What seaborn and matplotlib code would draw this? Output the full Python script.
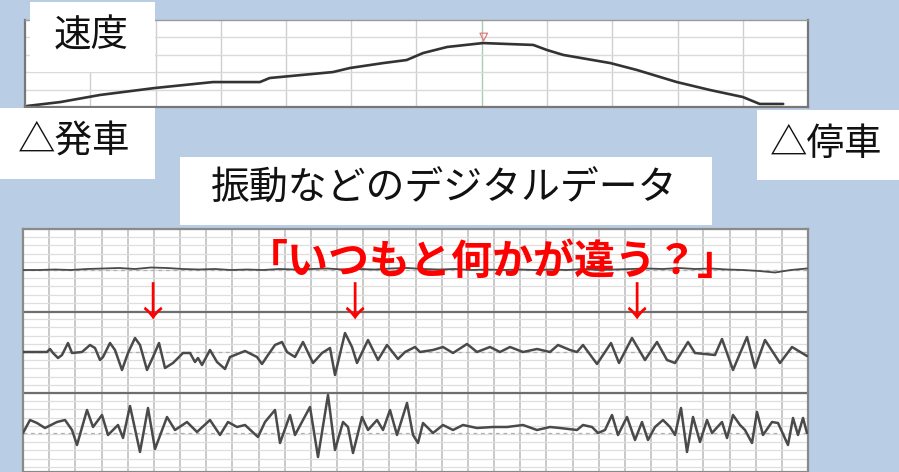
import matplotlib
matplotlib.use("Agg")
import matplotlib.pyplot as plt
from matplotlib.patches import Rectangle
from matplotlib.ticker import MultipleLocator
import seaborn as sns
import pandas as pd

# speed curve (t in s, v in km/h)
speed_t = [0.3, 5.4, 11.5, 19.9, 28.8, 36.0, 37.5, 47.2, 49.8, 54.9, 58.5, 61.0,
           64.7, 70.2, 74.3, 77.9, 80.0, 82.5, 89.7, 93.8, 99.9, 105.0, 110.0,
           112.6, 116.2]
speed_v = [0.7, 3.4, 8.3, 13.1, 17.2, 17.2, 20.0, 24.1, 26.9, 30.3, 32.4, 37.2,
           41.4, 44.1, 43.4, 42.8, 39.3, 35.9, 30.3, 25.5, 17.2, 11.7, 6.9,
           2.1, 2.1]

# vibration traces (t = sample no., a = amplitude)
vib1_t = [0, 16, 32, 48, 64, 80, 96, 112, 128, 144, 160, 176, 192, 208, 224, 240,
          256, 272, 288, 304, 320, 336, 352, 368, 384, 400, 416, 432, 448, 464,
          480, 496, 512, 528, 544, 560, 576, 592, 608, 624, 640, 656, 672, 688,
          704, 720, 736, 752, 768, 784]
vib1_a = [0, 0, 0.5, 0, 1, 1.5, 2, 1, 2.5, 2, 1, 0.5, 1, 0, 0.5, 0, 1, 0.5, 1,
          1.5, 0.5, 1, 0.5, 1.5, 2, 1, 0.5, 1, 0, 0.5, 0, 0.5, 0, 0.5, 0, 1, 0,
          0.5, 1, 1.5, 1, 2, 1, 1.5, 0.5, 0, -1, -2.5, 0, 1.5]

vib2_t = [0, 14, 24, 27, 30, 35, 39, 45, 49, 59, 67, 72, 77, 80, 87, 92, 99, 105,
          112, 117, 124, 130, 136, 142, 150, 160, 167, 172, 175, 179, 187, 194,
          202, 207, 222, 234, 239, 245, 252, 259, 264, 272, 280, 290, 299, 307,
          312, 322, 329, 334, 345, 355, 364, 375, 382, 392, 397, 410, 420, 430,
          444, 454, 467, 477, 487, 500, 514, 527, 535, 547, 554, 560, 574, 582,
          588, 596, 609, 622, 634, 644, 652, 665, 672, 692, 699, 710, 724, 732,
          742, 757, 769, 784]
vib2_a = [0, 0, 0, 3, -1, -6, -3, 9, -1, 0, 7, 4, -8, -5, 9, 2, -18, -1, 14, 7,
          -18, -5, 9, -16, -11, -1, -1, -10, -6, -13, 2, -10, -17, -5, 1, -5,
          -12, -3, 7, 10, 0, -5, 10, -11, -1, 4, -23, 19, 5, -11, 12, -8, 7, -7,
          0, 5, 0, 2, 5, -1, 8, 0, 5, 0, 5, 0, 3, 0, 7, 2, 0, 7, -12, 0, 9, -11,
          14, -8, 10, -8, -11, 10, -1, -3, 13, -18, 15, -16, 12, -11, 5, -4]

vib3_t = [0, 7, 14, 22, 34, 42, 49, 54, 64, 70, 79, 85, 95, 100, 107, 117, 125,
          132, 144, 152, 164, 174, 187, 197, 205, 214, 222, 235, 242, 252, 257,
          267, 272, 280, 287, 295, 305, 312, 320, 325, 330, 339, 345, 354, 360,
          367, 374, 384, 390, 395, 400, 410, 420, 430, 440, 454, 470, 484, 500,
          514, 527, 537, 554, 560, 569, 575, 582, 589, 595, 604, 612, 619, 625,
          632, 640, 647, 652, 658, 664, 670, 677, 684, 689, 699, 704, 710, 717,
          722, 729, 734, 740, 749, 755, 765, 770, 775, 780, 784]
vib3_a = [0, 13, 10, 5, 11, 13, 3, -12, 23, 6, 18, -2, 8, -5, 27, -19, 25, -16,
          16, 3, 11, 1, 13, -2, 11, 6, 8, -4, 11, 23, -10, 18, -2, 13, 26, -24,
          38, -17, 11, 6, -20, 16, 3, 13, 3, 23, -2, 30, -2, -10, 10, 0, 8, 3, 8,
          5, 6, 6, 8, 3, 6, 5, 3, 8, 6, 0, 3, 18, -2, 16, -7, 11, -7, 6, 13, 6,
          -2, 25, -19, 16, -9, 13, 0, 11, -5, 18, 8, 3, -10, 21, -2, 11, 10, -12,
          15, -2, 15, 0]

vib_base = [-41, -123, -204]

labels_black = ["速度", "△発車", "△停車", "振動などのデジタルデータ"]
label_red = "「いつもと何かが違う？」"

sns.set_style("white")
plt.rcParams['font.family'] = ['Noto Sans CJK JP', 'DejaVu Sans']

W, H = 899, 472
fig = plt.figure(figsize=(W / 100, H / 100), dpi=100)
fig.patch.set_facecolor("#B9CDE5")


def fx(x):
    return x / W


def fy(y):
    return 1 - y / H


def box(x0, y0, x1, y1):
    fig.add_artist(Rectangle((fx(x0), fy(y1)), (x1 - x0) / W, (y1 - y0) / H,
                             transform=fig.transFigure, facecolor="white",
                             edgecolor="none", zorder=2))


# --- speed chart ---
ax_s = fig.add_axes([fx(25), fy(107), 783 / W, 87 / H])
ax_s.set_facecolor("white")
ax_s.set_xlim(0, 120)
ax_s.set_ylim(0, 60)
for t in range(10, 120, 10):
    ax_s.axvline(t, color="#a9cbb3" if t == 70 else "#cfcfcf", lw=1.0, zorder=0)
for v in range(12, 60, 12):
    ax_s.axhline(v, color="#dadada", lw=1.0, zorder=0)
sns.lineplot(x=speed_t, y=speed_v, ax=ax_s, color="#333333", lw=1.9,
             sort=False, estimator=None)
ax_s.scatter([70.3], [48.3], marker="v", s=30, facecolors="none",
             edgecolors="#e07070", lw=0.8, zorder=3)
ax_s.set_xticks([])
ax_s.set_yticks([])
for side, sp in ax_s.spines.items():
    sp.set_visible(True)
    sp.set_color("#9a9a9a" if side == "top" else "#777777")
    sp.set_linewidth(1.0 if side == "top" else 1.6)

# --- vibration chart ---
ax_v = fig.add_axes([fx(23), 0, 785 / W, 243 / H])
ax_v.set_facecolor("white")
ax_v.set_xlim(0, 785)
ax_v.set_ylim(-243, 0)
ax_v.xaxis.set_major_locator(MultipleLocator(785 / 30))
ax_v.yaxis.set_major_locator(MultipleLocator(8.2))
ax_v.grid(True, which="major", axis="y", color="#dedede", lw=0.9)
ax_v.grid(True, which="major", axis="x", color="#bababa", lw=1.1)
ax_v.tick_params(length=0, labelbottom=False, labelleft=False)
for y in (-83, -164):
    ax_v.axhline(y, color="#6e6e6e", lw=1.6, zorder=2)
for b in vib_base:
    ax_v.axhline(b, color="#b0b0b0", lw=0.9, ls=(0, (3, 3)), zorder=2)

traces = [(vib1_t, vib1_a, 1.3), (vib2_t, vib2_a, 1.8), (vib3_t, vib3_a, 1.8)]
for (tt, aa, lw), b in zip(traces, vib_base):
    df = pd.DataFrame({"t": tt, "a": [b + a for a in aa]})
    sns.lineplot(data=df, x="t", y="a", ax=ax_v, color="#4a4a4a", lw=lw,
                 sort=False, estimator=None, zorder=3,
                 solid_joinstyle="round", solid_capstyle="round")
ax_v.set_xlabel("")
ax_v.set_ylabel("")
ax_s.set_xlabel("")
ax_s.set_ylabel("")
for side, sp in ax_v.spines.items():
    sp.set_visible(True)
    sp.set_color("#8a8a8a")
    sp.set_linewidth(1.6)

# --- label boxes ---
box(30, 2, 155, 72)
box(0, 108, 155, 179)
box(757, 110, 899, 180)
box(180, 157, 712, 225)

fig.text(fx(91), fy(36), labels_black[0], fontsize=27, color="#111111",
         ha="center", va="center", zorder=4)
fig.text(fx(74), fy(142), labels_black[1], fontsize=27, color="#111111",
         ha="center", va="center", zorder=4)
fig.text(fx(826), fy(144), labels_black[2], fontsize=27, color="#111111",
         ha="center", va="center", zorder=4)
fig.text(fx(444), fy(189), labels_black[3], fontsize=28, color="#111111",
         ha="center", va="center", zorder=4)

fig.text(fx(493), fy(262), label_red, fontsize=29.5, fontweight="bold",
         color="#FF0000", ha="center", va="center", zorder=5)
for x in (152, 354, 636):
    fig.text(fx(x), fy(305), "↓", fontsize=29, color="#FF0000",
             ha="center", va="center", zorder=5)

fig.savefig("out.png", dpi=100, facecolor=fig.get_facecolor())
